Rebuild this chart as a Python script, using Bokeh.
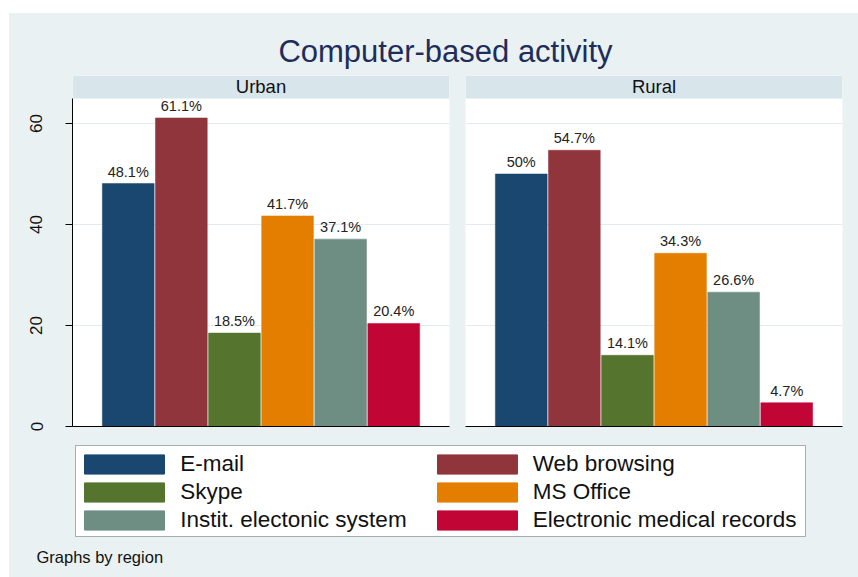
from bokeh.plotting import figure
from bokeh.layouts import column, row
from bokeh.models import Range1d, FixedTicker, BoxAnnotation, Label, Legend, LegendItem
from bokeh.core.properties import value
from bokeh.embed import file_html
from bokeh.resources import INLINE

# ---- data ----
categories = ["E-mail", "Web browsing", "Skype", "MS Office",
              "Instit. electonic system", "Electronic medical records"]
urban = [48.1, 61.1, 18.5, 41.7, 37.1, 20.4]
rural = [50.0, 54.7, 14.1, 34.3, 26.6, 4.7]
regions = ["Urban", "Rural"]
y_ticks = [0, 20, 40, 60]
title_text = "Computer-based activity"
note_text = "Graphs by region"

# ---- styles ----
palette = ["#1A476F", "#90353B", "#55752F", "#E37E00", "#6E8E84", "#C10534"]
BG = "#E9F1F3"
STRIP = "#D8E5EB"
FONT = "Liberation Sans"
Y_TOP = 64.95
Y_MAX = 69.5


def base_fig(w, h, **kw):
    p = figure(width=w, height=h, output_backend="svg", toolbar_location=None, **kw)
    p.border_fill_color = BG
    p.outline_line_color = None
    return p


def panel(name, vals, show_axis, width, left, right):
    xs = [i + 1 for i in range(len(vals))]
    p = base_fig(width, 365, x_range=Range1d(-0.05, 7.05), y_range=Range1d(0, Y_MAX),
                 min_border_left=left, min_border_right=right,
                 min_border_top=0, min_border_bottom=14)
    p.background_fill_color = "white"
    p.add_layout(BoxAnnotation(bottom=Y_TOP, top=Y_MAX, fill_color=STRIP, fill_alpha=1,
                               line_color=None, level="underlay"))
    p.add_layout(Label(x=3.5, y=(Y_TOP + Y_MAX) / 2, text=name, text_align="center",
                       text_baseline="middle", text_font=FONT, text_font_size="18.5px",
                       text_color="#111111"))
    p.xgrid.visible = False
    p.ygrid.ticker = FixedTicker(ticks=y_ticks)
    p.ygrid.grid_line_color = "#E2ECEF"
    p.xaxis.ticker = FixedTicker(ticks=[])
    p.xaxis.axis_line_color = "black"
    p.xaxis.major_tick_line_color = None
    p.xaxis.minor_tick_line_color = None
    if show_axis:
        ax = p.yaxis[0]
        ax.ticker = FixedTicker(ticks=y_ticks)
        ax.bounds = (0, Y_TOP)
        ax.major_label_orientation = "vertical"
        ax.major_tick_out = 7
        ax.major_tick_in = 0
        ax.minor_tick_line_color = None
        ax.axis_line_color = "black"
        ax.major_tick_line_color = "black"
        ax.major_label_text_font = FONT
        ax.major_label_text_font_size = "17px"
        ax.major_label_text_color = "#111111"
        ax.major_label_standoff = 23
    else:
        p.yaxis.visible = False
    p.vbar(x=xs, top=vals, bottom=0, width=0.975, fill_color=palette, line_color=palette,
           line_width=0.5)
    p.text(x=xs, y=vals, text=[f"{v:g}%" for v in vals], text_align="center",
           text_baseline="bottom", y_offset=-4, text_font=value(FONT),
           text_font_size="14.5px", text_color="#222222")
    return p


# ---- title ----
tp = base_fig(849, 62, x_range=Range1d(0, 849), y_range=Range1d(0, 62), min_border=0,
              x_axis_location=None, y_axis_location=None)
tp.background_fill_color = BG
tp.grid.visible = False
tp.add_layout(Label(x=436, y=24.5, text=title_text, text_align="center", text_baseline="middle",
                    text_font=FONT, text_font_size="31px", text_color="#1E2D5A"))

# ---- panels ----
pu = panel(regions[0], urban, True, 448, 63, 8)
pr = panel(regions[1], rural, False, 401, 8, 16)

# ---- legend ----
lp = base_fig(849, 137, x_range=Range1d(0, 849), y_range=Range1d(0, 137), min_border=0,
              x_axis_location=None, y_axis_location=None)
lp.background_fill_color = BG
lp.grid.visible = False
lp.add_layout(BoxAnnotation(left=66, right=796, bottom=41, top=132, fill_color="white",
                            fill_alpha=1, line_color="black", line_width=1))
nan = float("nan")
proxies = [lp.vbar(x=[nan], top=[nan], width=1, fill_color=c, line_color=c) for c in palette]


def make_legend(idx, loc):
    lg = Legend(items=[LegendItem(label=categories[i], renderers=[proxies[i]]) for i in idx],
                location=loc, orientation="vertical", border_line_color=None,
                background_fill_alpha=0, padding=0, margin=0, spacing=2,
                glyph_width=100, glyph_height=24, label_height=24, label_standoff=6,
                label_text_font=FONT, label_text_font_size="22.5px", label_text_color="#111111")
    lp.add_layout(lg)


make_legend([0, 2, 4], (65.3, 44.1))
make_legend([1, 3, 5], (417.7, 44.1))
lp.add_layout(Label(x=27, y=21, text=note_text, text_baseline="middle", text_font=FONT,
                    text_font_size="16.5px", text_color="#111111"))

layout = column(tp, row(pu, pr, styles={"background-color": BG}), lp,
                styles={"margin-top": "13px", "margin-left": "9px", "background-color": BG})
open("out.html", "w").write(file_html(layout, INLINE))
